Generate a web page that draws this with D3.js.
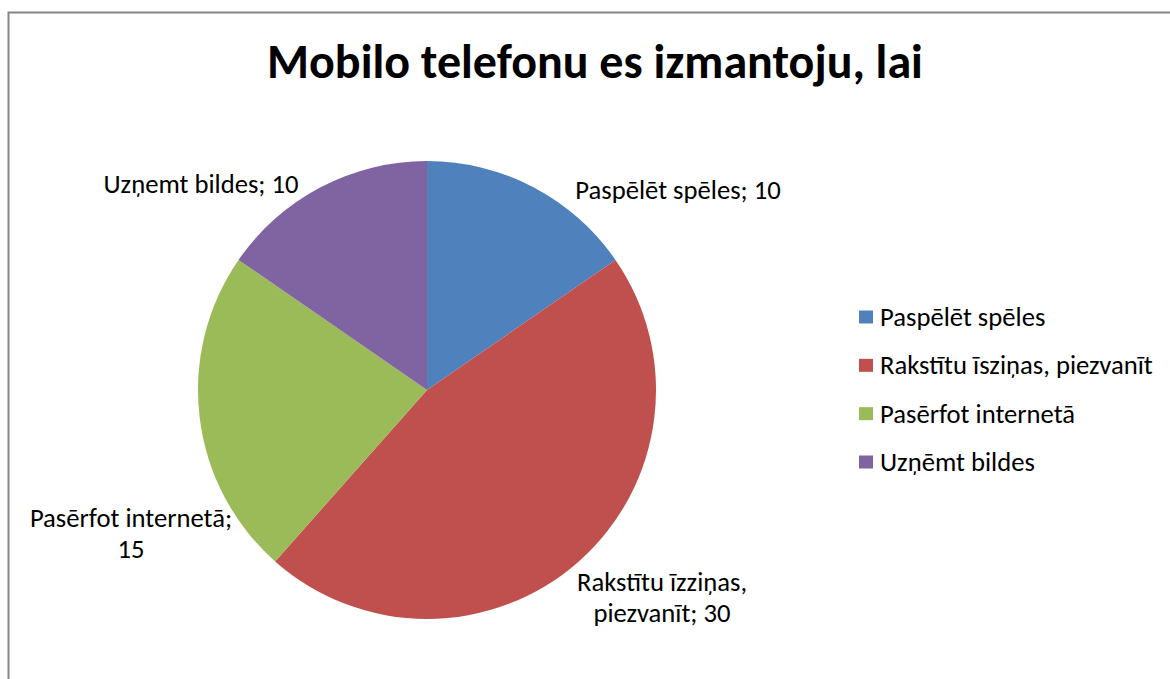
<!DOCTYPE html>
<html>
<head>
<meta charset="utf-8">
<script src="https://cdn.jsdelivr.net/npm/d3@7"></script>
<style>
  body { margin: 0; background: #fff; }
  text { font-family: Calibri, Carlito, "Open Sans", sans-serif; fill: #000; }
</style>
</head>
<body>
<div id="chart"></div>
<script>
const title = "Mobilo telefonu es izmantoju, lai";
const categories = ["Paspēlēt spēles", "Rakstītu īsziņas, piezvanīt", "Pasērfot internetā", "Uzņēmt bildes"];
const values = [10, 30, 15, 10];
// data labels as they are written on the slices (two lines where wrapped)
const labelLines = [
  ["Paspēlēt spēles; 10"],
  ["Rakstītu īzziņas,", "piezvanīt; 30"],
  ["Pasērfot internetā;", "15"],
  ["Uzņemt bildes; 10"]
];
const colors = ["#4F81BD", "#C0504D", "#9BBB59", "#8064A2"];

const width = 1170;
const height = 679;
const cx = 427, cy = 390, radius = 229;
// label centre offsets from the pie centre
const labelOffsets = [[251, -196], [235, 211], [-296, 147], [-226, -202]];
const lineHeight = 31;

const svg = d3.select("#chart")
  .append("svg")
  .attr("width", width)
  .attr("height", height);

// outer chart frame (runs off the right and bottom of the picture)
svg.append("rect")
  .attr("x", 8.5)
  .attr("y", 12.5)
  .attr("width", width + 10)
  .attr("height", height + 10)
  .attr("fill", "none")
  .attr("stroke", "#868686")
  .attr("stroke-width", 2);

svg.append("text")
  .attr("x", 595)
  .attr("y", 78)
  .attr("text-anchor", "middle")
  .attr("font-size", 48)
  .attr("font-weight", "bold")
  .text(title);

const pie = d3.pie().sort(null).value(d => d);
const arc = d3.arc().innerRadius(0).outerRadius(radius);
const arcs = pie(values);

const g = svg.append("g").attr("transform", `translate(${cx}, ${cy})`);

g.selectAll("path")
  .data(arcs)
  .enter()
  .append("path")
  .attr("d", arc)
  .attr("fill", (d, i) => colors[i]);

const labels = g.selectAll("text.label")
  .data(arcs)
  .enter()
  .append("text")
  .attr("class", "label")
  .attr("text-anchor", "middle")
  .attr("font-size", 26.67)
  .attr("transform", (d, i) => `translate(${labelOffsets[i][0]}, ${labelOffsets[i][1]})`);

labels.each(function(d, i) {
  const lines = labelLines[i];
  const t = d3.select(this);
  lines.forEach((line, j) => {
    t.append("tspan")
      .attr("x", 0)
      .attr("y", (j - (lines.length - 1) / 2) * lineHeight + 5)
      .text(line);
  });
});

// legend
const legendY = d3.scalePoint()
  .domain(categories)
  .range([317, 462]);

const legend = svg.append("g").attr("transform", "translate(859, 0)");

const items = legend.selectAll("g")
  .data(categories)
  .enter()
  .append("g")
  .attr("transform", d => `translate(0, ${legendY(d)})`);

items.append("rect")
  .attr("x", 0)
  .attr("y", -6.5)
  .attr("width", 14)
  .attr("height", 13)
  .attr("fill", (d, i) => colors[i]);

items.append("text")
  .attr("x", 21)
  .attr("y", 9)
  .attr("font-size", 26.67)
  .text(d => d);
</script>
</body>
</html>
